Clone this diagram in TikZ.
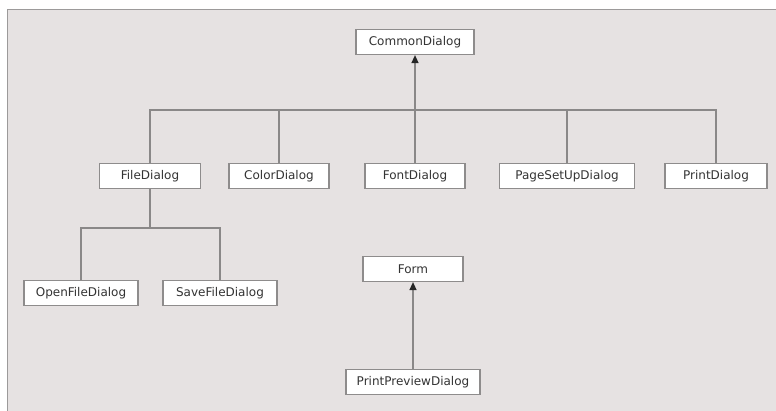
\documentclass[tikz,border=0pt]{standalone}
\usepackage{fontspec}
\setmainfont{DejaVu Sans}
\usetikzlibrary{arrows.meta}
\definecolor{panel}{HTML}{E6E2E2}
\definecolor{frameline}{HTML}{9C9A9A}
\definecolor{boxline}{HTML}{8E8C8C}
\definecolor{wire}{HTML}{8A8888}
\definecolor{label}{HTML}{333333}
\begin{document}
\begin{tikzpicture}[x=1pt,y=-1pt,
  cls/.style={draw=boxline, line width=1.2pt, fill=white, rectangle,
    minimum height=25pt, inner sep=0pt, text=label,
    font=\fontsize{12}{14}\selectfont},
  wirestyle/.style={draw=wire, line width=1.3pt},
  inherit/.style={wirestyle, -{Triangle[length=8pt,width=7pt,color=black!85]}}]
  % canvas and panel
  \useasboundingbox (0,0) rectangle (776,411);
  \fill[white] (0,0) rectangle (776,411);
  \fill[panel] (8,10) rectangle (776,411);
  \draw[frameline, line width=1.6pt] (7.5,411) -- (7.5,9.5) -- (776,9.5);

  % classes
  \node[cls, minimum width=118pt] (cd)    at (415,42)  {CommonDialog};
  \node[cls, minimum width=101pt] (fd)    at (150,176) {FileDialog};
  \node[cls, minimum width=100pt] (cold)  at (279,176) {ColorDialog};
  \node[cls, minimum width=100pt] (fontd) at (415,176) {FontDialog};
  \node[cls, minimum width=135pt] (psd)   at (567,176) {PageSetUpDialog};
  \node[cls, minimum width=102pt] (pd)    at (716,176) {PrintDialog};
  \node[cls, minimum width=114pt] (ofd)   at (81,293)  {OpenFileDialog};
  \node[cls, minimum width=114pt] (sfd)   at (220,293) {SaveFileDialog};
  \node[cls, minimum width=100pt] (form)  at (413,269) {Form};
  \node[cls, minimum width=134pt] (ppd)   at (413,382) {PrintPreviewDialog};

  % bus levels
  \coordinate (bus)  at (0,110);
  \coordinate (fbus) at (0,228);

  % CommonDialog hierarchy
  \draw[wirestyle] (fd.north) -- (fd.north |- bus) -- (pd.north |- bus) -- (pd.north);
  \draw[wirestyle] (cold.north) -- (cold.north |- bus);
  \draw[wirestyle] (psd.north) -- (psd.north |- bus);
  \draw[inherit] (fontd.north) -- (cd.south);

  % FileDialog hierarchy
  \draw[wirestyle] (ofd.north) -- (ofd.north |- fbus) -- (sfd.north |- fbus) -- (sfd.north);
  \draw[wirestyle] (fd.south) -- (fd.south |- fbus);

  % Form hierarchy
  \draw[inherit] (ppd.north) -- (form.south);
\end{tikzpicture}
\end{document}
